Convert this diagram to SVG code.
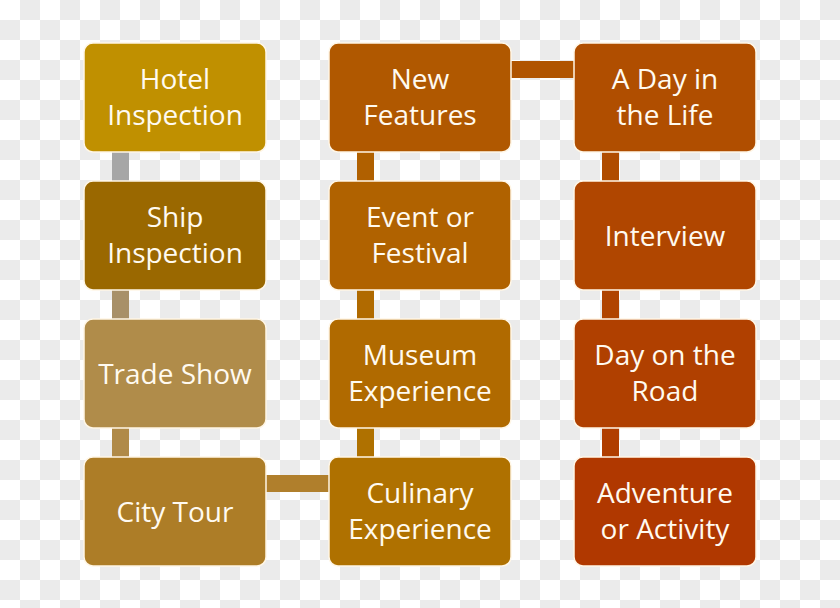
<svg xmlns="http://www.w3.org/2000/svg" width="840" height="608" viewBox="0 0 840 608">
<defs>
<pattern id="checker" x="0" y="0" width="40" height="40" patternUnits="userSpaceOnUse">
<rect x="0" y="0" width="40" height="40" fill="#ffffff"/>
<rect x="20" y="0" width="20" height="20" fill="#ebebeb"/>
<rect x="0" y="20" width="20" height="20" fill="#ebebeb"/>
</pattern>
<style>
.box{stroke:#fff6e6;stroke-width:1.5}
.lbl{font-family:"Open Sans","DejaVu Sans",sans-serif;font-size:28px;fill:#fffaf0;text-anchor:middle}
</style>
</defs>
<rect width="840" height="608" fill="url(#checker)"/>
<g id="connectors">
<rect x="112" y="151" width="17" height="31" fill="#a6a6a6"/>
<rect x="112" y="289" width="17" height="31" fill="#a89068"/>
<rect x="112" y="427" width="17" height="31" fill="#b08a48"/>
<rect x="265" y="475" width="65" height="17" fill="#b07f2c"/>
<rect x="357" y="427" width="17" height="31" fill="#af7100"/>
<rect x="357" y="289" width="17" height="31" fill="#b06a00"/>
<rect x="357" y="151" width="17" height="31" fill="#b06000"/>
<rect x="510" y="61" width="65" height="17" fill="#b05400"/>
<rect x="602" y="151" width="17" height="31" fill="#b04c00"/>
<rect x="602" y="289" width="17" height="31" fill="#b04400"/>
<rect x="602" y="427" width="17" height="31" fill="#b03e00"/>
</g>
<g id="hotel"><rect class="box" x="84" y="43" width="182" height="109" rx="9" fill="#c09000"/><text class="lbl" x="175" y="89">Hotel</text><text class="lbl" x="175" y="125">Inspection</text></g>
<g id="ship"><rect class="box" x="84" y="181" width="182" height="109" rx="9" fill="#9a6800"/><text class="lbl" x="175" y="227">Ship</text><text class="lbl" x="175" y="263">Inspection</text></g>
<g id="trade"><rect class="box" x="84" y="319" width="182" height="109" rx="9" fill="#b08c4a"/><text class="lbl" x="175" y="384">Trade Show</text></g>
<g id="city"><rect class="box" x="84" y="457" width="182" height="109" rx="9" fill="#ad7d27"/><text class="lbl" x="175" y="522">City Tour</text></g>
<g id="culinary"><rect class="box" x="329" y="457" width="182" height="109" rx="9" fill="#af7100"/><text class="lbl" x="420" y="503">Culinary</text><text class="lbl" x="420" y="539">Experience</text></g>
<g id="museum"><rect class="box" x="329" y="319" width="182" height="109" rx="9" fill="#b06a00"/><text class="lbl" x="420" y="365">Museum</text><text class="lbl" x="420" y="401">Experience</text></g>
<g id="event"><rect class="box" x="329" y="181" width="182" height="109" rx="9" fill="#b06200"/><text class="lbl" x="420" y="227">Event or</text><text class="lbl" x="420" y="263">Festival</text></g>
<g id="newfeatures"><rect class="box" x="329" y="43" width="182" height="109" rx="9" fill="#b05800"/><text class="lbl" x="420" y="89">New</text><text class="lbl" x="420" y="125">Features</text></g>
<g id="dayinlife"><rect class="box" x="574" y="43" width="182" height="109" rx="9" fill="#b04e00"/><text class="lbl" x="665" y="89">A Day in</text><text class="lbl" x="665" y="125">the Life</text></g>
<g id="interview"><rect class="box" x="574" y="181" width="182" height="109" rx="9" fill="#b04600"/><text class="lbl" x="665" y="246">Interview</text></g>
<g id="dayonroad"><rect class="box" x="574" y="319" width="182" height="109" rx="9" fill="#b04000"/><text class="lbl" x="665" y="365">Day on the</text><text class="lbl" x="665" y="401">Road</text></g>
<g id="adventure"><rect class="box" x="574" y="457" width="182" height="109" rx="9" fill="#b03800"/><text class="lbl" x="665" y="503">Adventure</text><text class="lbl" x="665" y="539">or Activity</text></g>
</svg>
